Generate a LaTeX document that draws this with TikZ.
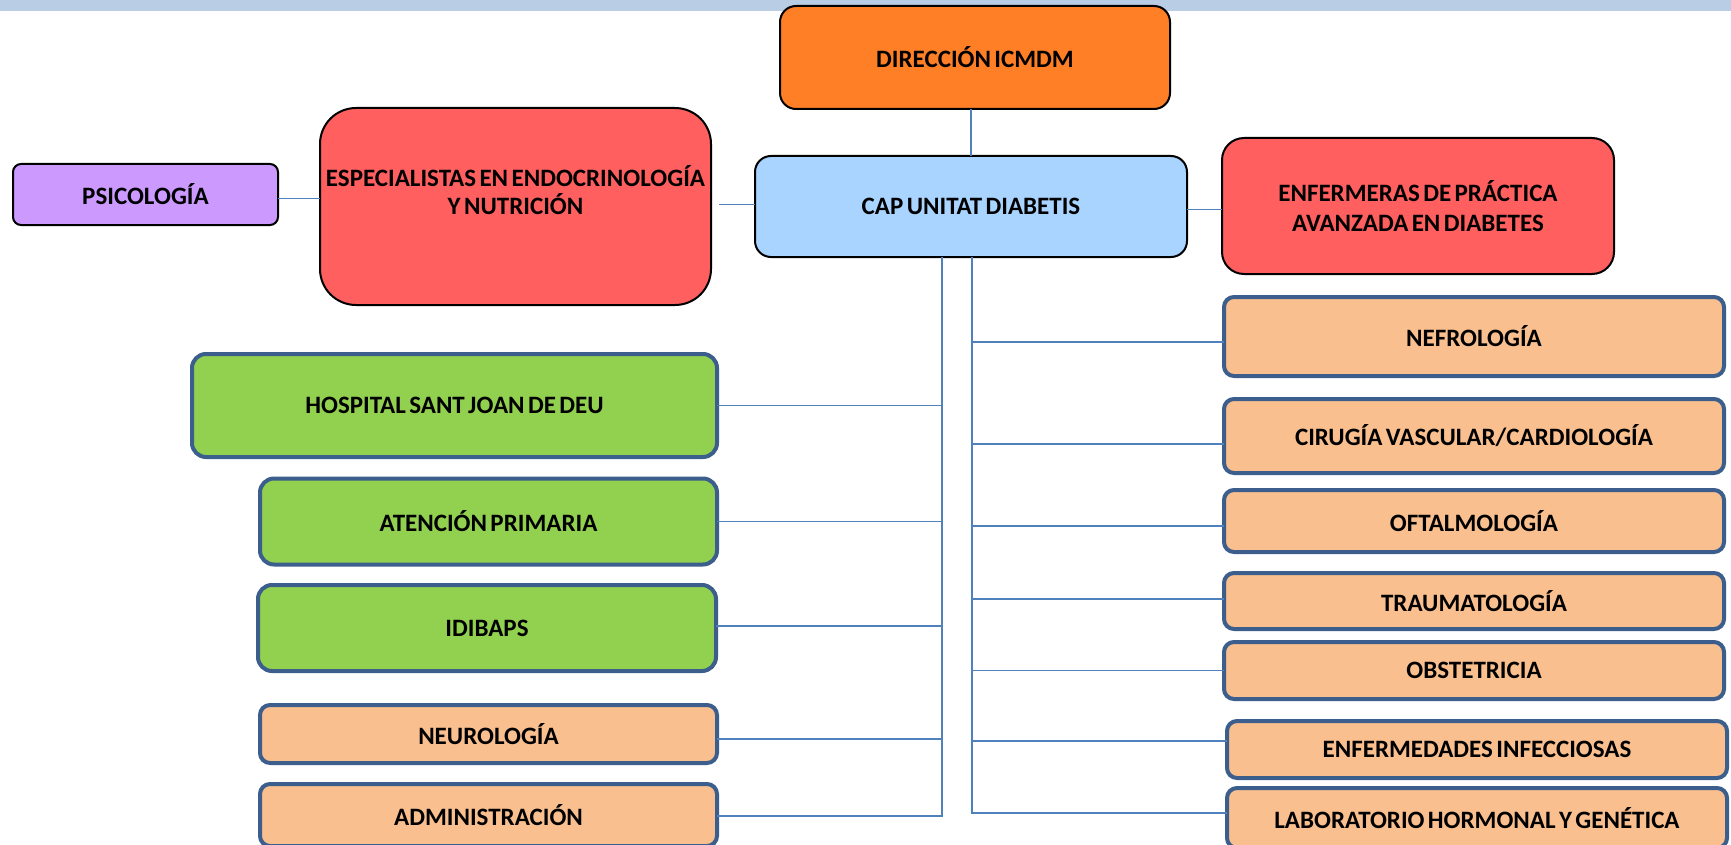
\documentclass[tikz,border=0pt]{standalone}
\usepackage{fontspec}
\setmainfont{Carlito}[WordSpace=0.6]
\usetikzlibrary{calc}
\definecolor{topbar}{RGB}{185,205,229}
\definecolor{dirorange}{RGB}{255,127,39}
\definecolor{redbox}{RGB}{255,95,95}
\definecolor{lilac}{RGB}{204,153,255}
\definecolor{capblue}{RGB}{168,212,255}
\definecolor{greenbox}{RGB}{146,208,80}
\definecolor{peach}{RGB}{249,191,143}
\definecolor{slate}{RGB}{59,94,140}
\definecolor{linkblue}{RGB}{79,129,189}
\tikzset{
  base/.style={rectangle, inner sep=0pt, outer sep=0pt, align=center,
    font=\fontsize{25}{28.5}\selectfont\bfseries, text=black},
  blackbox/.style={base, draw=black, line width=2pt},
  bluebox/.style={base, draw=slate, line width=4pt},
  link/.style={draw=linkblue, line width=1.6pt},
}
\begin{document}
\begin{tikzpicture}[x=1pt,y=-1pt]
\useasboundingbox (0,0) rectangle (1731,845);
\clip (0,0) rectangle (1731,845);
\fill[topbar] (0,0) rectangle (1731,11);

% top row
\node[blackbox, fill=dirorange, rounded corners=16pt, minimum width=390pt, minimum height=103pt] (dir) at (975,57.5) {DIRECCIÓN ICMDM};
\node[blackbox, fill=lilac, rounded corners=8pt, minimum width=265pt, minimum height=61pt] (psico) at (145.5,194.5) {PSICOLOGÍA};
\node[blackbox, fill=redbox, rounded corners=36pt, minimum width=391pt, minimum height=197pt] (esp) at (515.5,206.5) {};
\node[base] (esptxt) at (515.5,190) {ESPECIALISTAS EN ENDOCRINOLOGÍA\\Y NUTRICIÓN};
\node[blackbox, fill=capblue, rounded corners=16pt, minimum width=432pt, minimum height=101pt] (cap) at (971,206.5) {CAP UNITAT DIABETIS};
\node[blackbox, fill=redbox, rounded corners=22pt, minimum width=392pt, minimum height=136pt, font=\fontsize{25}{29.5}\selectfont\bfseries] (enf) at (1418,206) {ENFERMERAS DE PRÁCTICA\\AVANZADA EN DIABETES};

% left column
\node[bluebox, fill=greenbox, rounded corners=14pt, minimum width=525pt, minimum height=103pt] (hosp) at (454.5,405.5) {HOSPITAL SANT JOAN DE DEU};
\node[bluebox, fill=greenbox, rounded corners=14pt, minimum width=457pt, minimum height=86pt] (ate) at (488.5,521.5) {ATENCIÓN PRIMARIA};
\node[bluebox, fill=greenbox, rounded corners=14pt, minimum width=458pt, minimum height=86pt] (idi) at (487,628) {IDIBAPS};
\node[bluebox, fill=peach, rounded corners=10pt, minimum width=457pt, minimum height=58pt] (neu) at (488.5,734) {NEUROLOGÍA};
\node[bluebox, fill=peach, rounded corners=10pt, minimum width=457pt, minimum height=62pt] (adm) at (488.5,815) {ADMINISTRACIÓN};

% right column
\node[bluebox, fill=peach, rounded corners=10pt, minimum width=500pt, minimum height=79pt] (nef) at (1474,336.5) {NEFROLOGÍA};
\node[bluebox, fill=peach, rounded corners=10pt, minimum width=500pt, minimum height=74pt] (cir) at (1474,436) {CIRUGÍA VASCULAR/CARDIOLOGÍA};
\node[bluebox, fill=peach, rounded corners=10pt, minimum width=500pt, minimum height=62pt] (oft) at (1474,521) {OFTALMOLOGÍA};
\node[bluebox, fill=peach, rounded corners=10pt, minimum width=500pt, minimum height=56pt] (tra) at (1474,601) {TRAUMATOLOGÍA};
\node[bluebox, fill=peach, rounded corners=10pt, minimum width=500pt, minimum height=57pt] (obs) at (1474,670.5) {OBSTETRICIA};
\node[bluebox, fill=peach, rounded corners=10pt, minimum width=500pt, minimum height=57pt] (enfm) at (1477,749.5) {ENFERMEDADES INFECCIOSAS};
\node[bluebox, fill=peach, rounded corners=10pt, minimum width=500pt, minimum height=60pt] (lab) at (1477,818) {LABORATORIO HORMONAL Y GENÉTICA};

% trunk coordinates
\coordinate (lv) at (942,817);
\coordinate (rv) at (972,814);

% connectors
\draw[link] (cap.north) -- (cap.north |- dir.south);
\draw[link] ([yshift=-4pt]psico.east) -- ([yshift=-4pt]psico.east -| esp.west);
\draw[link, shorten >=8pt] ([yshift=2pt]cap.west) -- ([yshift=2pt]cap.west -| esp.east);
\draw[link] ([yshift=-3pt]cap.east) -- ([yshift=-3pt]cap.east -| enf.west);
\draw[link] (cap.south -| lv) -- (lv);
\draw[link] (cap.south -| rv) -- (rv);
\foreach \n/\s in {hosp/0,ate/0,idi/2,neu/-5,adm/-1} {
  \draw[link] ([yshift=\s pt]\n.east) -- ([yshift=\s pt]\n.east -| lv);
}
\foreach \n/\s in {nef/-5.5,cir/-8,oft/-5,tra/2,obs/0,enfm/8.5,lab/5} {
  \draw[link] ([yshift=\s pt]\n.west) -- ([yshift=\s pt]\n.west -| rv);
}
\end{tikzpicture}
\end{document}
